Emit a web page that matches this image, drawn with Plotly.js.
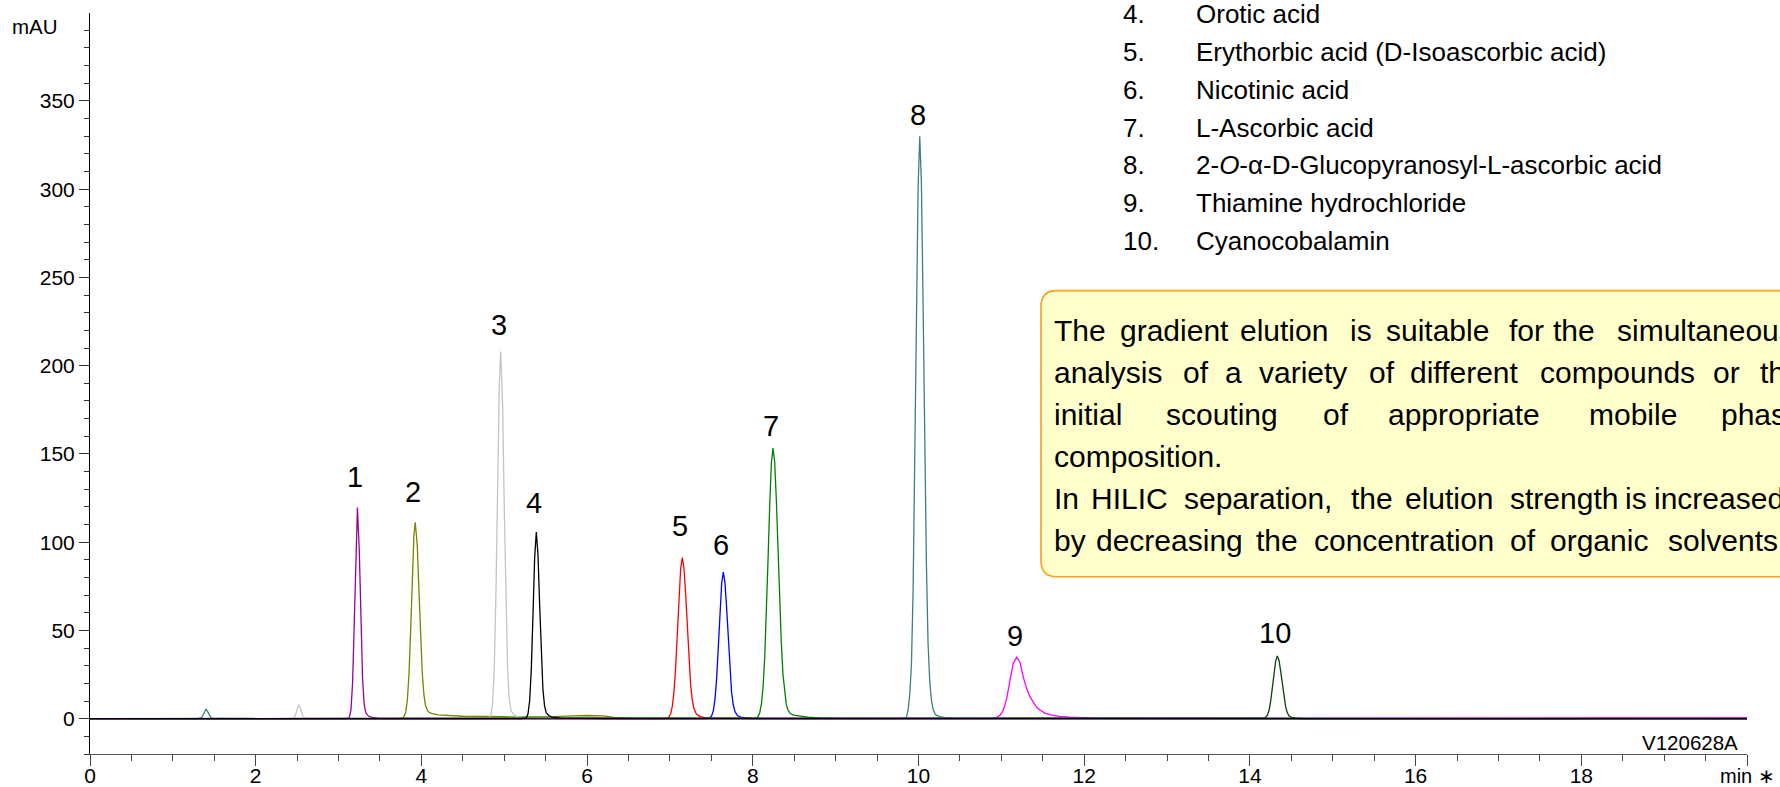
<!DOCTYPE html>
<html>
<head>
<meta charset="utf-8">
<script src="https://cdn.plot.ly/plotly-3.0.1.min.js"></script>
<style>
html,body{margin:0;padding:0;background:#ffffff;}
#chart{width:1780px;height:787px;}
</style>
</head>
<body>
<div id="chart"></div>
<script>
// ---------------- DATA ----------------
const peakNumbers = ['1','2','3','4','5','6','7','8','9','10'];

const compoundNumbers = ['4.','5.','6.','7.','8.','9.','10.'];
const compoundNames = [
  'Orotic acid',
  'Erythorbic acid (D-Isoascorbic acid)',
  'Nicotinic acid',
  'L-Ascorbic acid',
  '2-<i>O</i>-\u03b1-D-Glucopyranosyl-L-ascorbic acid',
  'Thiamine hydrochloride',
  'Cyanocobalamin'
];

const noteLines = [
  'The gradient elution is suitable for the simultaneous',
  'analysis of a variety of different compounds or the',
  'initial scouting of appropriate mobile phase',
  'composition.',
  'In HILIC separation, the elution strength is increased',
  'by decreasing the concentration of organic solvents.'
];

const xTickVals = [0,2,4,6,8,10,12,14,16,18,20];
const xTickText = ['0','2','4','6','8','10','12','14','16','18',''];

// retention time (min) / absorbance (mAU) for each trace
const t1 = [0,2.9,3.05,3.10,3.13,3.15,3.17,3.19,3.21,3.228,3.25,3.27,3.29,3.31,3.33,3.36,3.40,3.50,3.70,20];
const v1 = [0,0,0,0.1,0.8,5.0,20.8,56,101,119.6,95.6,54.5,22.5,8,3.2,1.5,0.7,0.2,0.1,0];

const t2 = [0,3.6,3.72,3.78,3.81,3.83,3.85,3.87,3.89,3.91,3.926,3.95,3.97,3.99,4.01,4.03,4.05,4.08,4.12,4.20,4.50,5.00,5.50,5.75,6.00,6.20,6.35,6.50,20];
const v2 = [0,0,0,0.5,3.4,10.3,24.9,49.7,79.6,104.3,111.3,98.2,73.4,46.9,26,13.6,7.5,4.0,3.0,2.2,1.4,1.1,1.0,1.5,1.8,1.6,0.5,0.1,0];

const t3 = [0,2.40,2.46,2.48,2.50,2.52,2.54,2.56,2.58,2.62,4.70,4.76,4.82,4.84,4.86,4.88,4.90,4.92,4.94,4.957,4.98,5.00,5.02,5.04,5.06,5.08,5.11,5.15,5.25,6.0,20];
const v3 = [0,0,0.5,2.0,5.5,7.7,5.8,2.5,0.8,0.2,0,0,0.45,2.3,9.4,29.7,71.6,132.5,188.9,208,177.8,120.3,64.6,28.8,11.4,4.8,2.5,1.2,0.5,0.3,0];

const t4 = [0,5.15,5.207,5.267,5.287,5.307,5.327,5.347,5.367,5.387,5.407,5.427,5.447,5.467,5.487,5.507,5.537,5.577,5.677,6.2,20];
const v4 = [0,0,0,0.5,2.8,10.3,28.5,58.9,91.3,105.7,93.2,64.7,35.4,16.3,7.1,3.4,1.8,0.9,0.3,0.1,0];

const t5 = [0,6.8,6.899,6.979,7.009,7.029,7.049,7.069,7.089,7.109,7.129,7.149,7.169,7.189,7.209,7.229,7.249,7.269,7.289,7.319,7.359,7.419,7.519,17.9,18.2,19.3,19.6,20];
const v5 = [0,0,0,0.5,2.8,7.1,15.3,29.2,48.1,68.9,84.9,91.3,85.5,70.9,51.8,33.6,19.6,10.8,5.8,2.6,1.3,0.6,0.2,0.1,0.5,0.5,0.1,0];

const t6 = [0,7.3,7.404,7.484,7.504,7.524,7.544,7.564,7.584,7.604,7.624,7.644,7.664,7.684,7.704,7.724,7.744,7.764,7.784,7.814,7.854,7.914,8.014,20];
const v6 = [0,0,0,0.5,1.7,4.6,11.2,23.1,40.4,60.3,76.6,83,77.2,62.7,44,27.3,15,7.9,4.1,1.8,0.9,0.4,0.1,0];

const t7 = [0,7.9,7.964,8.044,8.064,8.084,8.104,8.124,8.144,8.164,8.184,8.204,8.224,8.244,8.264,8.284,8.304,8.324,8.344,8.364,8.384,8.404,8.424,8.454,8.494,8.564,8.664,8.794,9.044,20];
const v7 = [0,0,0,0.4,1.2,3.4,8.4,17.9,34.8,59.2,90.1,120.8,144.6,153.3,145.6,124.2,96.1,67.4,43.1,25.1,14.3,8.1,4.9,2.9,2.0,1.4,0.9,0.5,0.2,0];

const t8 = [0,1.30,1.35,1.37,1.39,1.40,1.42,1.44,1.46,1.50,9.70,9.795,9.855,9.875,9.895,9.915,9.935,9.955,9.975,9.995,10.015,10.035,10.055,10.075,10.095,10.115,10.135,10.155,10.175,10.205,10.255,10.335,10.465,20];
const v8 = [0,0,0.8,2.5,4.8,5.4,4.0,1.8,0.6,0.1,0,0,0.8,5,14,31.2,72.7,141.9,226,300.6,330,303.6,236,157.3,88.7,43.2,22,11,5.5,2.3,1.2,0.5,0.2,0];

const t9 = [0,10.8,10.865,10.945,10.985,11.025,11.065,11.105,11.145,11.185,11.225,11.265,11.305,11.345,11.385,11.425,11.465,11.525,11.605,11.705,11.825,11.985,12.185,13.0,15.3,20];
const v9 = [0,0,0,0.8,2.0,4.9,11.5,22,31.5,34.8,32,23.5,17.2,12.5,9.2,6.5,4.9,3.2,2.0,1.3,0.9,0.5,0.2,0.1,0.4,0.6];

const t10 = [0,14.0,14.091,14.151,14.181,14.211,14.231,14.251,14.271,14.291,14.311,14.331,14.351,14.371,14.391,14.411,14.431,14.451,14.471,14.501,14.551,14.631,20];
const v10 = [0,0,0,0.2,0.4,2.0,4.8,9.9,17.3,25.8,32.8,35.5,33.1,27.0,19.5,12.2,6.8,3.5,1.7,0.8,0.3,0.1,0];

// ---------------- STYLE ----------------
const FONT = "'Liberation Sans', Arial, Helvetica, sans-serif";
const peakColors = ['#990099','#808000','#c4c4c4','#000000','#ff0000','#0000ff','#008000','#3f7f7f','#ff00ff','#0b3f0b'];
const labelYShift = [12.4,12,9,11.4,13.6,9.6,4.6,3,3.6,5];

const series = [
  {t:t1,v:v1},{t:t2,v:v2},{t:t3,v:v3},{t:t4,v:v4},{t:t5,v:v5},
  {t:t6,v:v6},{t:t7,v:v7},{t:t8,v:v8},{t:t9,v:v9},{t:t10,v:v10}
];

// plot area in pixels
const PL = 90, PR = 1747, PT = 13, PB = 754;
const fx = p => (p - PL) / (PR - PL);
const fy = p => (PB - p) / (PB - PT);

// draw order: black trace last so the common baseline reads dark
const order = [0,1,2,4,5,6,7,8,9,3];
const traces = order.map(i => ({
  type: 'scatter', mode: 'lines',
  x: series[i].t, y: series[i].v,
  line: {color: peakColors[i], width: 1.3},
  hoverinfo: 'skip', showlegend: false
}));

const annotations = [];

// peak number labels
series.forEach((s, i) => {
  let k = 0;
  s.v.forEach((val, j) => { if (val > s.v[k]) k = j; });
  annotations.push({
    xref: 'x', yref: 'y', x: s.t[k], y: s.v[k],
    xanchor: 'center', yanchor: 'bottom', xshift: -2, yshift: labelYShift[i],
    text: peakNumbers[i], showarrow: false,
    font: {family: FONT, size: 29, color: '#000'}
  });
});

// axis captions
annotations.push({xref:'paper', yref:'paper', x: fx(35.5), y: fy(26.3), xanchor:'center', yanchor:'middle',
  text:'mAU', showarrow:false, font:{family:FONT, size:20.5, color:'#000'}});
annotations.push({xref:'paper', yref:'paper', x: fx(1777), y: fy(775.5), xanchor:'right', yanchor:'middle',
  text:'min \u2217', showarrow:false, font:{family:FONT, size:20, color:'#000'}});
annotations.push({xref:'paper', yref:'paper', x: fx(1739.5), y: fy(742.5), xanchor:'right', yanchor:'middle',
  text:'V120628A', showarrow:false, font:{family:FONT, size:20.5, color:'#000'}});

// compound list (top right)
const listY0 = 14.5, listStep = 37.7;
compoundNumbers.forEach((n, i) => {
  const y = fy(listY0 + i * listStep);
  annotations.push({xref:'paper', yref:'paper', x: fx(1121), y: y, xanchor:'left', yanchor:'middle',
    text: n, showarrow:false, font:{family:FONT, size:26, color:'#000'}});
  annotations.push({xref:'paper', yref:'paper', x: fx(1194), y: y, xanchor:'left', yanchor:'middle',
    text: compoundNames[i], showarrow:false, font:{family:FONT, size:26, color:'#000'}});
});

// note box text, placed word by word (justified block)
const noteY = [330.6, 372.6, 414.6, 456.6, 498.6, 540.6];
const wordX = [
  [1052, 1118, 1238, 1348, 1383.5, 1507, 1551, 1615],
  [1052, 1181, 1223, 1257, 1366.5, 1407.5, 1538, 1711, 1757.5],
  [1052, 1163.5, 1321, 1386, 1587, 1718.5],
  [1052],
  [1052, 1089, 1181.5, 1349, 1402.5, 1508, 1622.5, 1651.5],
  [1052, 1093.5, 1254, 1311.5, 1507.5, 1548, 1665.5]
];
noteLines.forEach((line, li) => {
  const y = fy(noteY[li]);
  line.split(' ').forEach((w, wi) => {
    annotations.push({xref:'paper', yref:'paper', x: fx(wordX[li][wi]), y: y, xanchor:'left', yanchor:'middle',
      text: w, showarrow:false, font:{family:FONT, size:30, color:'#000'}});
  });
});

// rounded note box
const bx0 = 1041, bx1 = 1820, by0 = 290.6, by1 = 576.7, br = 16;
const boxPath =
  `M ${fx(bx0)},${fy(by0 + br)} Q ${fx(bx0)},${fy(by0)} ${fx(bx0 + br)},${fy(by0)} ` +
  `L ${fx(bx1)},${fy(by0)} L ${fx(bx1)},${fy(by1)} L ${fx(bx0 + br)},${fy(by1)} ` +
  `Q ${fx(bx0)},${fy(by1)} ${fx(bx0)},${fy(by1 - br)} Z`;

const layout = {
  width: 1780, height: 787, autosize: false,
  margin: {l: PL, r: 1780 - PR, t: PT, b: 787 - PB, pad: 0},
  paper_bgcolor: '#ffffff', plot_bgcolor: '#ffffff',
  font: {family: FONT, size: 21, color: '#000'},
  xaxis: {
    range: [0, 20], tickmode: 'array', tickvals: xTickVals, ticktext: xTickText,
    ticks: 'outside', ticklen: 11, tickwidth: 1, tickcolor: '#444',
    ticklabelstandoff: -8,
    showline: true, linecolor: '#555', linewidth: 1,
    showgrid: false, zeroline: false,
    tickfont: {family: FONT, size: 21, color: '#000'},
    minor: {tickmode: 'linear', tick0: 0, dtick: 0.5, ticks: 'outside', ticklen: 6, tickwidth: 1, tickcolor: '#444', showgrid: false},
    fixedrange: true
  },
  yaxis: {
    range: [-20, 399.8], tickmode: 'linear', tick0: 0, dtick: 50,
    ticks: 'outside', ticklen: 10, tickwidth: 1, tickcolor: '#333',
    showline: true, linecolor: '#000', linewidth: 1,
    showgrid: false, zeroline: false,
    tickfont: {family: FONT, size: 21, color: '#000'},
    minor: {tickmode: 'linear', tick0: 0, dtick: 10, ticks: 'outside', ticklen: 5, tickwidth: 1, tickcolor: '#333', showgrid: false},
    fixedrange: true
  },
  shapes: [{
    type: 'path', xref: 'paper', yref: 'paper', path: boxPath,
    fillcolor: '#ffffcc', line: {color: '#ff9f1c', width: 1.6}, layer: 'above'
  }],
  annotations: annotations
};

Plotly.newPlot('chart', traces, layout, {staticPlot: true, displayModeBar: false});
</script>
</body>
</html>
